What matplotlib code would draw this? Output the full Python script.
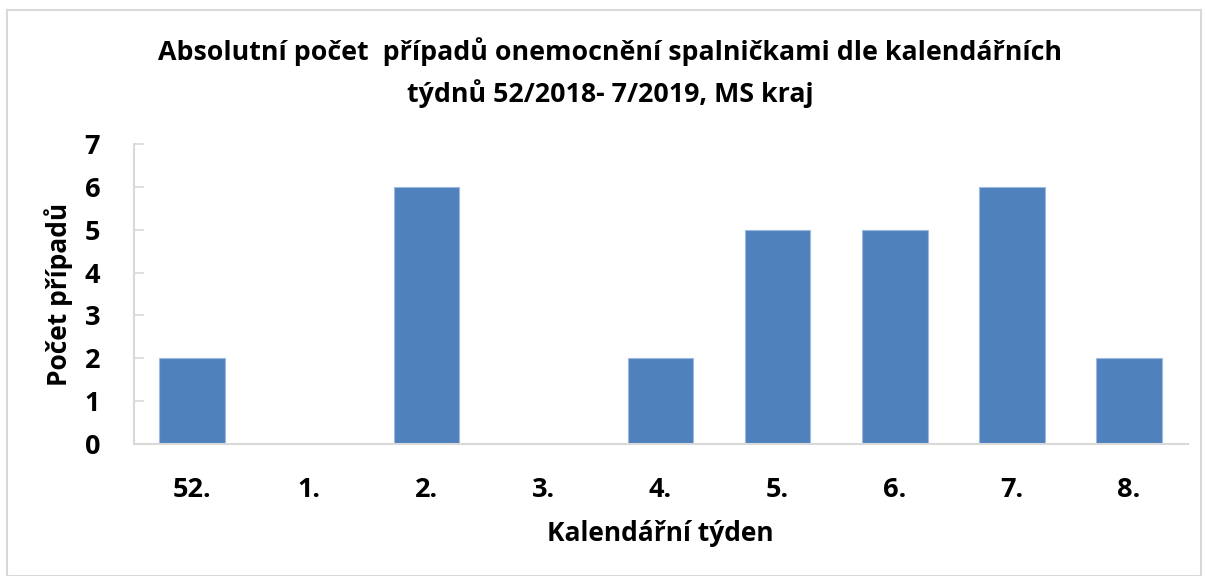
import matplotlib.pyplot as plt
from matplotlib.patches import Rectangle

weeks = ["52.", "1.", "2.", "3.", "4.", "5.", "6.", "7.", "8."]
cases = [2, 0, 6, 0, 2, 5, 5, 6, 2]

plt.rcParams["font.family"] = ["Open Sans", "DejaVu Sans"]
plt.rcParams["font.weight"] = "bold"

fig = plt.figure(figsize=(12.06, 5.76), dpi=100)
ax = fig.add_axes([0.1107, 0.2292, 0.874, 0.5208])

x = range(len(weeks))
ax.bar(x, cases, width=0.56, color="#4F81BD", edgecolor="#9DB9E0", linewidth=0.8)

ax.set_xlim(-0.5, len(weeks) - 0.5)
ax.set_ylim(0, 7)
ax.set_yticks(range(0, 8))
ax.set_xticks(list(x))
ax.set_xticklabels(weeks)

for s in ["top", "right"]:
    ax.spines[s].set_visible(False)
for s in ["left", "bottom"]:
    ax.spines[s].set_color("#D9D9D9")
    ax.spines[s].set_linewidth(1.5)

ax.tick_params(axis="y", direction="in", length=7, color="#D9D9D9", width=1.2,
               labelsize=19.5, pad=24)
ax.tick_params(axis="x", length=0, labelsize=19.5, pad=24)

ax.set_xlabel("Kalendářní týden", fontsize=19, fontweight="bold", labelpad=12)
ax.set_ylabel("Počet případů", fontsize=19, fontweight="bold", labelpad=8)

fig.text(0.506, 0.91, "Absolutní počet  případů onemocnění spalničkami dle kalendářních",
         ha="center", va="center", fontsize=19.3, fontweight="bold")
fig.text(0.506, 0.838, "týdnů 52/2018- 7/2019, MS kraj",
         ha="center", va="center", fontsize=19.3, fontweight="bold")

fig.patches.append(Rectangle((0.006, 0.0), 0.99, 0.982, transform=fig.transFigure,
                             fill=False, edgecolor="#D9D9D9", linewidth=1.5))

fig.savefig("out.png", dpi=100)
